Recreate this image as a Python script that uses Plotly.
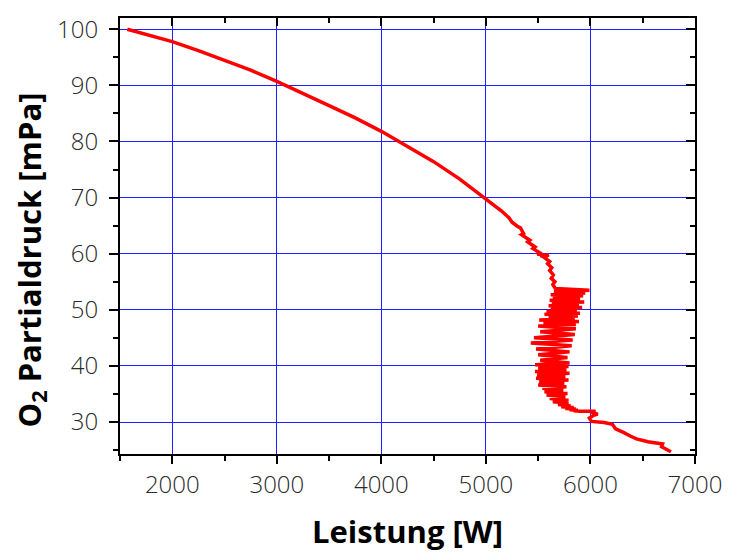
import plotly.graph_objects as go

# Leistung [W] and O2 partial pressure [mPa], in segments
# smooth upper branch down to the onset of instability
upper_w = [1570, 1800, 2000, 2250, 2500, 2750, 3000, 3250, 3500, 3750, 4000, 4250, 4500,
           4750, 5000, 5100, 5150, 5220, 5250, 5300, 5330, 5360, 5340, 5420, 5400, 5470,
           5450, 5510, 5490, 5540, 5520, 5600, 5560, 5610, 5590, 5630, 5610, 5645, 5625,
           5660, 5640, 5665]
upper_mpa = [100.0, 98.9, 97.8, 96.2, 94.5, 92.7, 90.7, 88.6, 86.4, 84.2, 81.8, 79.1, 76.4,
             73.3, 69.8, 68.4, 67.6, 66.4, 65.6, 64.9, 64.6, 63.6, 63.4, 62.4, 62.1, 61.2,
             60.9, 60.2, 59.9, 60.0, 59.6, 59.8, 59.3, 58.6, 58.2, 57.5, 57.0, 56.2, 55.6,
             55.0, 54.5, 53.8]
# oscillating region, top dense part
osc_top_w = [5990, 5650, 5950, 5620, 5930, 5640, 5900, 5610, 5940, 5630, 5890, 5600, 5920,
             5620, 5870, 5580, 5900, 5560, 5880, 5600, 5850, 5510, 5890, 5550, 5860, 5500]
osc_top_mpa = [53.5, 53.2, 53.0, 52.7, 52.5, 52.2, 52.0, 51.7, 51.4, 51.2, 50.9, 50.7, 50.4,
               50.2, 49.9, 49.7, 49.4, 49.2, 48.9, 48.7, 48.4, 48.2, 47.9, 47.6, 47.4, 47.1]
# oscillating region, middle (sparser strokes)
osc_mid_w = [5860, 5520, 5850, 5460, 5830, 5430, 5820, 5480, 5800, 5500, 5780, 5520, 5800]
osc_mid_mpa = [46.6, 46.1, 45.6, 45.0, 44.6, 44.1, 43.6, 43.0, 42.5, 42.0, 41.5, 41.0, 40.5]
# oscillating region, lower dense part
osc_low_w = [5470, 5790, 5500, 5770, 5470, 5800, 5490, 5760, 5480, 5790,
             5510, 5750, 5500, 5770, 5540, 5740, 5560, 5780, 5580, 5760,
             5610, 5790, 5640, 5790, 5690, 5810, 5720, 5840, 5760, 5860,
             5800, 5880, 5840, 5900]
osc_low_mpa = [40.2, 39.9, 39.6, 39.3, 39.0, 38.7, 38.4, 38.1, 37.8, 37.5,
               37.2, 36.9, 36.6, 36.3, 36.0, 35.7, 35.4, 35.1, 34.8, 34.5,
               34.2, 33.9, 33.6, 33.4, 33.1, 32.9, 32.7, 32.6, 32.4, 32.3,
               32.2, 32.1, 32.0, 31.9]
# lower branch after the oscillations
tail_w = [6050, 6000, 6070, 6030, 5990, 6010, 6130, 6160, 6210, 6240, 6280, 6320, 6380,
          6440, 6550, 6650, 6690, 6680, 6700, 6770]
tail_mpa = [31.9, 31.8, 31.4, 31.2, 30.7, 30.1, 29.9, 29.8, 29.6, 28.8, 28.5, 28.1, 27.5,
            27.0, 26.5, 26.3, 26.1, 25.6, 25.4, 24.7]

leistung_w = upper_w + osc_top_w + osc_mid_w + osc_low_w + tail_w
o2_mpa = upper_mpa + osc_top_mpa + osc_mid_mpa + osc_low_mpa + tail_mpa

x_range = [1500, 7000]
y_range = [24.3, 102]
x_ticks = [2000, 3000, 4000, 5000, 6000, 7000]
y_ticks = [30, 40, 50, 60, 70, 80, 90, 100]

x_title = "Leistung [W]"
y_title = "O<sub>2</sub> Partialdruck [mPa]"

fig = go.Figure()
fig.add_trace(go.Scatter(
    x=leistung_w, y=o2_mpa, mode="lines",
    line=dict(color="#FF0000", width=3.5),
    showlegend=False, hoverinfo="skip",
))
fig.add_trace(go.Scatter(x=[None], y=[None], xaxis="x2", yaxis="y2",
                         mode="lines", showlegend=False, hoverinfo="skip"))

tickfont = dict(family="Open Sans", size=24, color="#2a2a2a", weight=300)
grid_blue = "#2020FF"

fig.update_layout(
    width=734, height=553,
    margin=dict(l=120, r=29, t=14, b=99),
    paper_bgcolor="white", plot_bgcolor="white",
    xaxis=dict(
        range=x_range, tickvals=x_ticks, ticks="outside", ticklen=8, tickwidth=2,
        tickcolor="black", showline=True, linecolor="black", linewidth=2,
        showgrid=True, gridcolor=grid_blue, gridwidth=1, zeroline=False,
        tickfont=tickfont,
        minor=dict(dtick=500, tick0=1500, ticks="outside", ticklen=5,
                   tickwidth=1.5, tickcolor="black", showgrid=False),
    ),
    yaxis=dict(
        range=y_range, tickvals=y_ticks, ticks="outside", ticklen=9, tickwidth=2,
        tickcolor="black", showline=True, linecolor="black", linewidth=2,
        showgrid=True, gridcolor=grid_blue, gridwidth=1, zeroline=False,
        tickfont=tickfont, ticklabelstandoff=6,
        minor=dict(dtick=5, tick0=25, ticks="outside", ticklen=5,
                   tickwidth=1.5, tickcolor="black", showgrid=False),
    ),
    xaxis2=dict(
        overlaying="x", side="top", range=x_range, tickvals=x_ticks,
        ticks="inside", ticklen=8, tickwidth=2, tickcolor="black",
        showticklabels=False, showgrid=False, zeroline=False,
        showline=True, linecolor="black", linewidth=2,
        minor=dict(dtick=500, tick0=1500, ticks="inside", ticklen=5,
                   tickwidth=1.5, tickcolor="black", showgrid=False),
    ),
    yaxis2=dict(
        overlaying="y", side="right", range=y_range, tickvals=y_ticks,
        ticks="inside", ticklen=9, tickwidth=2, tickcolor="black",
        showticklabels=False, showgrid=False, zeroline=False,
        showline=True, linecolor="black", linewidth=2,
        minor=dict(dtick=5, tick0=25, ticks="inside", ticklen=5,
                   tickwidth=1.5, tickcolor="black", showgrid=False),
    ),
    annotations=[
        dict(text=x_title, xref="paper", yref="paper", x=0.5, y=-0.177,
             xanchor="center", yanchor="middle", showarrow=False,
             font=dict(family="Open Sans", size=31, color="black", weight="bold")),
        dict(text=y_title, xref="paper", yref="paper", x=-0.1556, y=0.445,
             xanchor="center", yanchor="middle", showarrow=False, textangle=-90,
             font=dict(family="Open Sans", size=31, color="black", weight="bold")),
    ],
)

fig.write_html("out.html")
